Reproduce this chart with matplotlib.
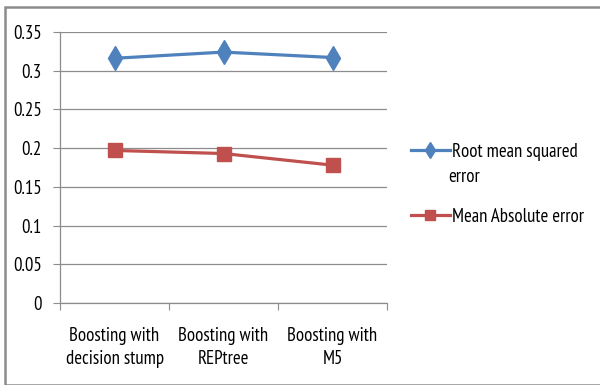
import matplotlib.pyplot as plt
from matplotlib.patches import Rectangle

plt.rcParams['font.family'] = ['PT Sans Narrow', 'DejaVu Sans']
plt.rcParams['font.weight'] = 'normal'

categories = ['Boosting with\ndecision stump', 'Boosting with\nREPtree', 'Boosting with\nM5']
rmse = [0.316, 0.324, 0.317]
mae = [0.197, 0.193, 0.178]
yticks = [0, 0.05, 0.1, 0.15, 0.2, 0.25, 0.3, 0.35]
ytick_labels = ['0', '0.05', '0.1', '0.15', '0.2', '0.25', '0.3', '0.35']

blue = '#4F81BD'
red = '#C0504D'
grey = '#8C8C8C'
fs = 13.5

fig = plt.figure(figsize=(6, 3.85), dpi=100)
ax = fig.add_axes([0.1, 0.213, 0.545, 0.704])

x = range(len(categories))
l1, = ax.plot(x, rmse, color=blue, lw=2.3, marker='d', ms=12.5,
              label='Root mean squared', zorder=3)
l2, = ax.plot(x, mae, color=red, lw=2.3, marker='s', ms=10,
              label='Mean Absolute error', zorder=3)

ax.set_xlim(-0.5, 2.5)
ax.set_ylim(0, 0.35)
ax.set_yticks(yticks)
ax.set_yticklabels(ytick_labels, fontsize=fs)
ax.yaxis.grid(True, color=grey, lw=0.9)
ax.set_axisbelow(True)

ax.set_xticks([-0.5, 0.5, 1.5, 2.5])
ax.set_xticklabels([])
ax.set_xticks(list(x), minor=True)
ax.set_xticklabels(categories, minor=True, fontsize=fs, linespacing=1.4)
ax.tick_params(axis='x', which='minor', length=0, pad=17)
ax.tick_params(axis='x', which='major', length=5, color=grey, direction='out')
ax.tick_params(axis='y', length=5, color=grey, direction='out', pad=8)

for s in ['top', 'right']:
    ax.spines[s].set_visible(False)
for s in ['left', 'bottom']:
    ax.spines[s].set_color(grey)
    ax.spines[s].set_linewidth(0.9)

fig.legend(handles=[l1, l2], loc='upper left', bbox_to_anchor=(0.672, 0.648),
           frameon=False, fontsize=fs, handlelength=2.1, handletextpad=0.1,
           labelspacing=2.5, markerscale=0.65, borderaxespad=0)
fig.text(448 / 600, 1 - 177 / 385, 'error', fontsize=fs, va='center', ha='left')

fig.patches.append(Rectangle((5 / 600, 0), 1, 1 - 7 / 385, transform=fig.transFigure,
                             fill=False, edgecolor=grey, lw=1.8))

fig.savefig('out.png', dpi=100)
